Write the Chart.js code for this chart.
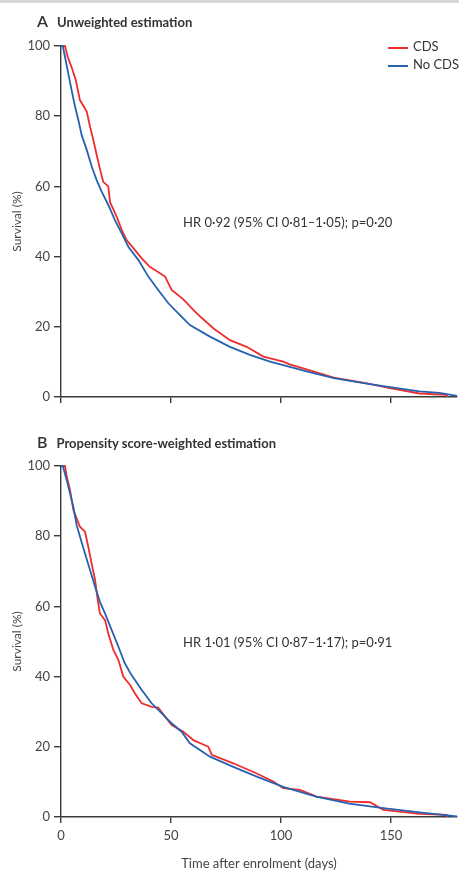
<!DOCTYPE html>
<html>
<head>
<meta charset="utf-8">
<script src="https://cdn.jsdelivr.net/npm/chart.js@4.4.1/dist/chart.umd.min.js"></script>
<style>
  body { margin: 0; background: #fff; }
  #page { position: relative; width: 459px; height: 872px; overflow: hidden; font-family: Lato, "Open Sans", sans-serif; color: #333; }
  .bar { position: absolute; left: 0; top: 0; width: 459px; height: 3px; background: #d8d8d8; }
  .panel { position: absolute; left: 0; width: 459px; }
  .ttl { position: absolute; left: 37px; font-size: 13px; font-weight: bold; white-space: nowrap; z-index: 2; }
  .ttl b { font-size: 16px; font-weight: 600; margin-right: 9px; }
  .legend { position: absolute; left: 388px; top: 37px; font-size: 13px; z-index: 2; }
  .legend div { height: 18px; line-height: 18px; white-space: nowrap; }
  .legend span { display: inline-block; width: 20px; height: 0; border-top: 2px solid; vertical-align: middle; margin-right: 5px; }
</style>
</head>
<body>
<div id="page">
  <div class="bar"></div>
  <div class="ttl" style="top:11px"><b>A</b>Unweighted estimation</div>
  <div class="legend">
    <div><span style="border-color:rgb(238,45,45)"></span>CDS</div>
    <div><span style="border-color:rgb(38,98,176)"></span>No CDS</div>
  </div>
  <div class="panel" style="top:0;height:420px"><canvas id="chartA" width="459" height="420"></canvas></div>
  <div class="ttl" style="top:432px"><b>B</b>Propensity score-weighted estimation</div>
  <div class="panel" style="top:420px;height:452px"><canvas id="chartB" width="459" height="452"></canvas></div>
</div>
<script>
// Panel A - unweighted
var aDaysCDS = [0, 1.8, 3.0, 4.8, 6.7, 8.6, 11.7, 13.2, 14.7, 16.2, 17.7, 19.2, 21.5, 22.3, 25.3, 27.6, 29.8, 32.9, 36.7, 40.5, 42.7, 47.3, 50.3, 55.6, 61.7, 69.2, 76.8, 84.4, 92, 101, 104, 112, 124, 139, 149.5, 163, 175.3, 175.4];
var aSurvCDS = [100, 100, 97, 94, 90.3, 84.6, 81.3, 77, 73.2, 69, 65, 61.3, 60, 55.5, 51.4, 47.6, 44.7, 42.4, 39.5, 37, 36.2, 34.3, 30.5, 27.8, 23.8, 19.6, 16.2, 14.3, 11.5, 10.1, 9.3, 7.8, 5.5, 3.9, 2.5, 1.0, 0.6, 0];
var aDaysNo = [0, 0.8, 2.1, 3.3, 4.8, 6.4, 7.9, 9.4, 11.7, 14.0, 16.2, 18.5, 21.5, 24.5, 27.6, 30.6, 35.2, 39.7, 44.2, 48.8, 53.3, 58.6, 67.7, 76.8, 85.9, 95, 104, 112, 124, 139, 149.5, 163, 172, 180];
var aSurvNo = [100, 100, 96, 92.2, 87.5, 82.7, 78.9, 74.6, 70.4, 65.6, 61.8, 58.5, 54.7, 50.4, 46.6, 42.8, 39, 34.3, 30.5, 26.7, 23.8, 20.5, 17.2, 14.3, 12, 10.1, 8.6, 7.2, 5.4, 3.8, 2.8, 1.6, 1.2, 0.3];

// Panel B - propensity score-weighted
var bDaysCDS = [0, 1.8, 2.6, 4.1, 5.6, 7.1, 8.6, 10.9, 12.4, 13.9, 15.5, 16.7, 17.7, 20, 21.5, 23.8, 26.1, 28.3, 31.4, 33.6, 36.7, 41.2, 44.2, 47.3, 50.3, 55.6, 60.2, 67, 68.5, 78.3, 89, 96.5, 101, 108.6, 116.2, 131.4, 140.5, 146.5, 163, 175.3, 175.4];
var bSurvCDS = [100, 100, 97, 93.2, 87.5, 85.1, 82.7, 81.3, 77, 72.3, 67.5, 61.8, 58, 56.1, 52.3, 47.6, 44.7, 40, 37.6, 35.2, 32.4, 31.4, 31.2, 28.6, 26.2, 24.3, 21.9, 20, 17.7, 15.3, 12.4, 10.1, 8.2, 7.7, 5.8, 4.4, 4.2, 2, 0.9, 0.6, 0];
var bDaysNo = [0, 0.8, 2.6, 4.1, 5.6, 7.1, 8.6, 10.9, 13.2, 15.5, 17.7, 20, 23, 26.1, 29, 32, 36.7, 41.2, 45.8, 50.3, 54.8, 58.6, 67.7, 78.3, 89, 101, 116, 131, 146.5, 163, 180];
var bSurvNo = [100, 100, 96, 92.2, 88.4, 83.2, 79.9, 75.1, 70.4, 65.6, 61.3, 58, 53.3, 48.5, 43.8, 40.5, 36.2, 32.4, 29.5, 26.7, 24.3, 21, 17.2, 14.3, 11.5, 8.6, 5.8, 3.8, 2.5, 1.3, 0.2];

var xTicks = [0, 50, 100, 150];
var yTicks = [0, 20, 40, 60, 80, 100];
var hrTextA = 'HR 0·92 (95% CI 0·81–1·05); p=0·20';
var hrTextB = 'HR 1·01 (95% CI 0·87–1·17); p=0·91';

var RED = 'rgb(238,45,45)';
var BLUE = 'rgb(38,98,176)';
var AXIS = '#3a3a3a';
var FONT = 'Lato';

function toPoints(days, surv) {
    var pts = [];
    for (var i = 0; i < days.length; i++) {
        pts.push({x: days[i], y: surv[i]});
    }
    return pts;
}

// writes the HR line at a spot given in data units
var hrLabel = {
    id: 'hrLabel',
    afterDatasetsDraw: function(chart, args, opts) {
        var ctx = chart.ctx;
        var px = chart.scales.x.getPixelForValue(opts.x);
        var py = chart.scales.y.getPixelForValue(opts.y);
        ctx.save();
        ctx.font = '13px ' + FONT;
        ctx.fillStyle = '#333';
        ctx.textBaseline = 'middle';
        ctx.fillText(opts.text, px, py);
        ctx.restore();
    }
};

function makeChart(id, cds, noCds, hrText, showX, xHeight) {
    var ctx = document.getElementById(id).getContext('2d');
    return new Chart(ctx, {
        type: 'line',
        data: {
            datasets: [{
                label: 'No CDS',
                data: noCds,
                borderColor: BLUE,
                borderWidth: 1.8,
                pointRadius: 0,
                tension: 0,
                clip: 4
            }, {
                label: 'CDS',
                data: cds,
                borderColor: RED,
                borderWidth: 1.8,
                pointRadius: 0,
                tension: 0,
                clip: 4
            }]
        },
        options: {
            responsive: false,
            animation: false,
            events: [],
            layout: { padding: { top: 46, right: 2, left: 0, bottom: 0 } },
            plugins: {
                legend: { display: false },
                tooltip: { enabled: false },
                hrLabel: { text: hrText, x: 55.5, y: 49.5 }
            },
            scales: {
                x: {
                    type: 'linear',
                    min: 0,
                    max: 180,
                    afterFit: function(scale) { scale.height = xHeight; },
                    afterBuildTicks: function(scale) {
                        scale.ticks = xTicks.map(function(v) { return {value: v}; });
                    },
                    border: { display: true, color: AXIS, width: 1.4 },
                    grid: { drawOnChartArea: false, drawTicks: true, tickLength: 6, color: AXIS, lineWidth: 1.4 },
                    ticks: { display: showX, color: '#444', padding: 5, font: { family: FONT, size: 13 } },
                    title: {
                        display: showX,
                        text: 'Time after enrolment (days)',
                        color: '#444',
                        font: { family: FONT, size: 13 },
                        padding: { top: 0, bottom: 0 }
                    }
                },
                y: {
                    min: 0,
                    max: 100,
                    afterFit: function(scale) { scale.width = 61; },
                    afterBuildTicks: function(scale) {
                        scale.ticks = yTicks.map(function(v) { return {value: v}; });
                    },
                    border: { display: true, color: AXIS, width: 1.4 },
                    grid: { drawOnChartArea: false, drawTicks: true, tickLength: 7, color: AXIS, lineWidth: 1.4 },
                    ticks: { color: '#444', padding: 4, font: { family: FONT, size: 13 } },
                    title: {
                        display: true,
                        text: 'Survival (%)',
                        color: '#444',
                        font: { family: FONT, size: 12 },
                        padding: { top: 10, bottom: 0 }
                    }
                }
            }
        },
        plugins: [hrLabel]
    });
}

makeChart('chartA', toPoints(aDaysCDS, aSurvCDS), toPoints(aDaysNo, aSurvNo), hrTextA, false, 23);
makeChart('chartB', toPoints(bDaysCDS, bSurvCDS), toPoints(bDaysNo, bSurvNo), hrTextB, true, 55);
</script>
</body>
</html>
